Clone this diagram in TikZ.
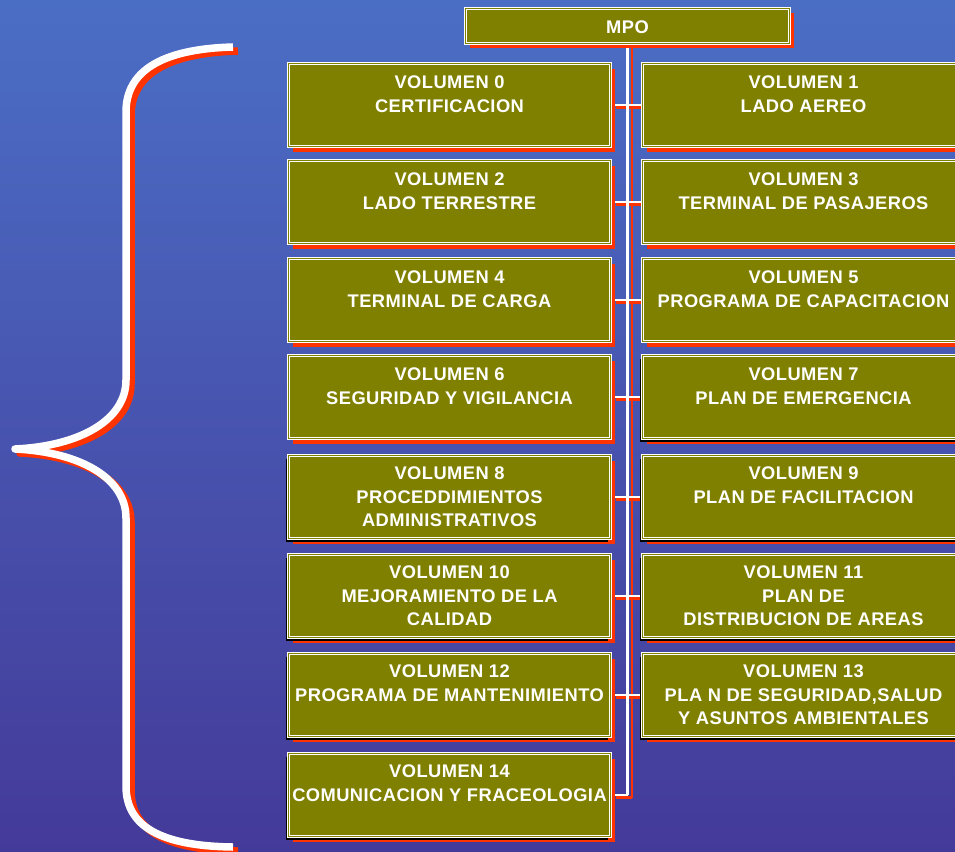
\documentclass[tikz,border=0pt]{standalone}
\usepackage{fontspec}
\setmainfont{Liberation Sans}
\usetikzlibrary{shadows}
\definecolor{olivebox}{RGB}{128,128,0}
\definecolor{shred}{RGB}{255,51,0}
\definecolor{bgtop}{RGB}{75,110,197}
\definecolor{bgbot}{RGB}{68,58,153}
\definecolor{innerline}{RGB}{235,235,200}
\pgfdeclarelayer{back}
\pgfdeclarelayer{bg}
\pgfsetlayers{back,bg,main}
\begin{document}
\begin{tikzpicture}[x=1pt,y=-1pt,
  volbox/.style={draw=white, line width=1.1pt, double=olivebox, double distance=1.1pt,
    fill=olivebox, minimum width=322pt, minimum height=83pt, inner sep=0pt,
    general shadow={fill=shred, shadow xshift=4pt, shadow yshift=-5pt}},
  volboxk/.style={volbox, general shadow={fill=black, shadow xshift=-3pt, shadow yshift=-3pt}},
  voltext/.style={text=white, font=\fontsize{18.3}{23.5}\selectfont\bfseries\addfontfeature{LetterSpace=2.5},
    align=center, inner sep=0pt, anchor=north},
  conn/.style={draw=white, line width=2.2pt},
  connsh/.style={draw=shred, line width=2.2pt},
  bracew/.style={draw=white, line width=7.5pt, line join=round, line cap=butt},
  braces/.style={draw=shred, line width=7.5pt, line join=round, line cap=butt}]
\useasboundingbox (0,0) rectangle (955,851);
\clip (0,0) rectangle (955,851);
\begin{pgfonlayer}{back}
  \shade[top color=bgtop, bottom color=bgbot] (0,0) rectangle (955,851);
\end{pgfonlayer}

% MPO
\node[volbox, minimum width=324pt, minimum height=35pt] (mpo) at (627.5,26) {};
\node[voltext, anchor=center] (mpot) at (627.5,27) {MPO};

% left column
\node[volbox]  (L1) at (449.5,105) {};
\node[volbox]  (L2) at (449.5,202) {};
\node[volbox]  (L3) at (449.5,300) {};
\node[volbox]  (L4) at (449.5,397) {};
\node[volboxk] (L5) at (449.5,497) {};
\node[volboxk] (L6) at (449.5,596) {};
\node[volboxk] (L7) at (449.5,695) {};
\node[volboxk] (L8) at (449.5,795) {};
% right column
\node[volbox]  (R1) at (803.5,105) {};
\node[volbox]  (R2) at (803.5,202) {};
\node[volbox]  (R3) at (803.5,300) {};
\node[volboxk] (R4) at (803.5,397) {};
\node[volboxk] (R5) at (803.5,497) {};
\node[volboxk] (R6) at (803.5,596) {};
\node[volboxk] (R7) at (803.5,695) {};

% texts
\node[voltext] (tl1) at (449.5,76)  {VOLUMEN 0\\CERTIFICACION};
\node[voltext] (tl2) at (449.5,173) {VOLUMEN 2\\LADO TERRESTRE};
\node[voltext] (tl3) at (449.5,271) {VOLUMEN 4\\TERMINAL DE CARGA};
\node[voltext] (tl4) at (449.5,368) {VOLUMEN 6\\SEGURIDAD Y VIGILANCIA};
\node[voltext] (tl5) at (449.5,467) {VOLUMEN 8\\PROCEDDIMIENTOS\\ADMINISTRATIVOS};
\node[voltext] (tl6) at (449.5,566) {VOLUMEN 10\\MEJORAMIENTO DE LA\\CALIDAD};
\node[voltext] (tl7) at (449.5,665) {VOLUMEN 12\\PROGRAMA DE MANTENIMIENTO};
\node[voltext] (tl8) at (449.5,765) {VOLUMEN 14\\COMUNICACION Y FRACEOLOGIA};
\node[voltext] (tr1) at (803.5,76)  {VOLUMEN 1\\LADO AEREO};
\node[voltext] (tr2) at (803.5,173) {VOLUMEN 3\\TERMINAL DE PASAJEROS};
\node[voltext] (tr3) at (803.5,271) {VOLUMEN 5\\PROGRAMA DE CAPACITACION};
\node[voltext] (tr4) at (803.5,368) {VOLUMEN 7\\PLAN DE EMERGENCIA};
\node[voltext] (tr5) at (803.5,467) {VOLUMEN 9\\PLAN DE FACILITACION};
\node[voltext] (tr6) at (803.5,566) {VOLUMEN 11\\PLAN DE\\DISTRIBUCION DE AREAS};
\node[voltext] (tr7) at (803.5,665) {VOLUMEN 13\\PLA N DE SEGURIDAD,SALUD\\Y ASUNTOS AMBIENTALES};

\coordinate (vend) at (mpo.south |- L8.east);

% connectors
\begin{pgfonlayer}{bg}
  \begin{scope}[transform canvas={shift={(4.5pt,-2.5pt)}}]
    \draw[connsh] (mpo.south) -- (vend);
    \foreach \i in {1,...,7} { \draw[connsh] (L\i.east) -- (R\i.west); }
    \draw[connsh] (L8.east) -- (vend);
  \end{scope}
  \draw[conn] (mpo.south) -- (vend);
  \foreach \i in {1,...,7} { \draw[conn] (L\i.east) -- (R\i.west); }
  \draw[conn] (L8.east) -- (vend);
\end{pgfonlayer}

% brace
\begin{scope}[transform canvas={shift={(5pt,-4pt)}}]
  \draw[braces] (233,47) .. controls (160,49) and (126,72) .. (126,112) -- (126,380)
    .. controls (126,420) and (80,446) .. (15,449)
    .. controls (80,452) and (126,478) .. (126,518) -- (126,786)
    .. controls (126,826) and (160,846) .. (233,847);
\end{scope}
\draw[bracew] (233,47) .. controls (160,49) and (126,72) .. (126,112) -- (126,380)
    .. controls (126,420) and (80,446) .. (15,449)
    .. controls (80,452) and (126,478) .. (126,518) -- (126,786)
    .. controls (126,826) and (160,846) .. (233,847);
\end{tikzpicture}
\end{document}
